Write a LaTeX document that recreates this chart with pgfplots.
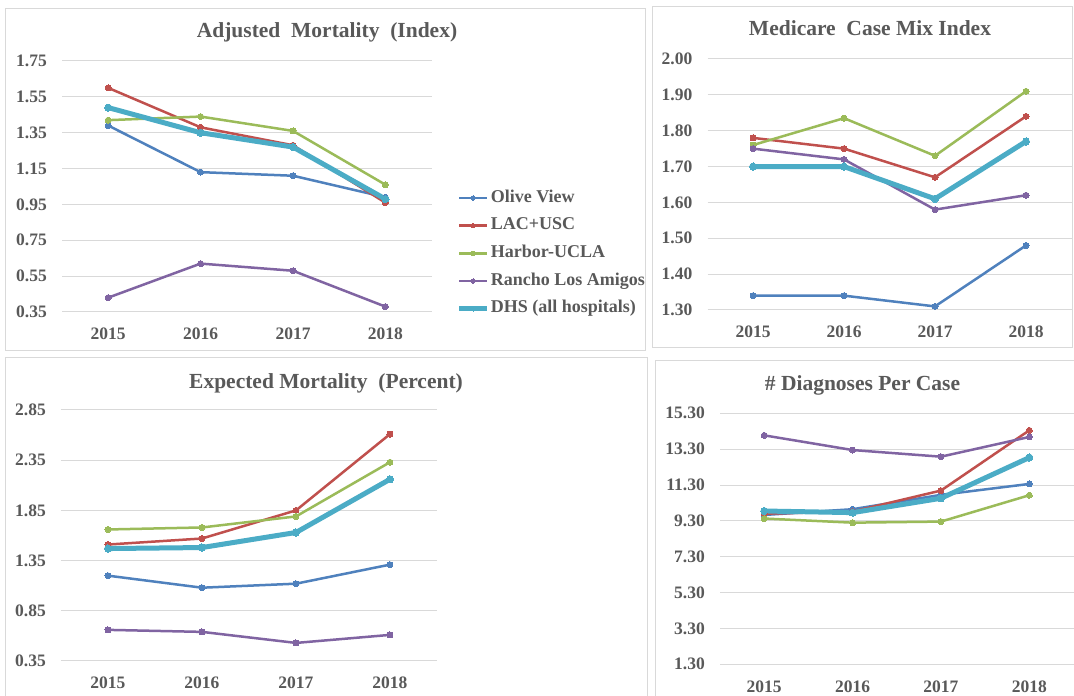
\documentclass[border=0pt]{standalone}
\usepackage{fontspec}
\setmainfont{Liberation Serif}
\usepackage{pgfplots}
\pgfplotsset{compat=1.18}
\definecolor{cOV}{HTML}{4F81BD}
\definecolor{cLA}{HTML}{C0504D}
\definecolor{cHA}{HTML}{9BBB59}
\definecolor{cRA}{HTML}{8064A2}
\definecolor{cDH}{HTML}{4BACC6}
\definecolor{txt}{HTML}{595959}
\definecolor{grd}{HTML}{D9D9D9}
\pgfplotsset{
  panel/.style={
    scale only axis, anchor=south west, clip=false,
    xmin=-0.5, xmax=3.5, xtick={0,1,2,3}, xticklabels={2015,2016,2017,2018},
    axis line style={draw=none}, major tick length=0pt,
    ymajorgrids, major grid style={grd, line width=1pt},
    tick label style={font=\fontsize{17.5}{17.5}\selectfont\bfseries, text=txt},
    yticklabel style={anchor=east, inner sep=0pt, xshift=-15pt,
      /pgf/number format/.cd, fixed, fixed zerofill, precision=2},
    xticklabel style={anchor=north, inner sep=0pt, yshift=-16pt},
    /pgf/number format/assume math mode=true,
  },
  sOV/.style={cOV, line width=2.5pt, mark=*, mark size=3pt, mark options={solid, fill=cOV, draw=cOV, line width=0pt}},
  sLA/.style={cLA, line width=2.5pt, mark=*, mark size=3pt, mark options={solid, fill=cLA, draw=cLA, line width=0pt}},
  sHA/.style={cHA, line width=2.5pt, mark=*, mark size=3pt, mark options={solid, fill=cHA, draw=cHA, line width=0pt}},
  sRA/.style={cRA, line width=2.5pt, mark=*, mark size=3pt, mark options={solid, fill=cRA, draw=cRA, line width=0pt}},
  sDH/.style={cDH, line width=5pt, mark=*, mark size=3.6pt, mark options={solid, fill=cDH, draw=cDH, line width=0pt}},
}
\begin{document}
\begin{tikzpicture}
\path[use as bounding box, fill=white] (0pt,0pt) rectangle (1074pt,696pt);
% panel frames
\draw[grd, line width=1pt] (5.5pt,345.5pt) rectangle (645pt,687.5pt);
\draw[grd, line width=1pt] (652.5pt,348pt) rectangle (1072.5pt,689.5pt);
\draw[grd, line width=1pt] (5.5pt,-5pt) -- (5.5pt,338.3pt) -- (647pt,338.3pt) -- (647pt,-5pt);
\draw[grd, line width=1pt] (655.3pt,-5pt) -- (655.3pt,335.3pt) -- (1080pt,335.3pt);
% titles
\begin{scope}[every node/.style={font=\fontsize{21.5}{21.5}\selectfont\bfseries, text=txt, inner sep=0pt, anchor=base}]
\node at (327pt,658pt) {Adjusted\ \ Mortality\ \ (Index)};
\node at (870pt,660pt) {Medicare\ \ Case Mix Index};
\node at (326pt,307.7pt) {Expected Mortality\ \ (Percent)};
\node at (862.5pt,305pt) {\# Diagnoses Per Case};
\end{scope}

% Panel 1
\begin{axis}[panel, at={(62pt,384pt)}, width=369.6pt, height=251pt,
  ymin=0.35, ymax=1.75, ytick={0.35,0.55,0.75,0.95,1.15,1.35,1.55,1.75},
  legend cell align=left,
  legend style={at={(rel axis cs:1.068,0.49)}, anchor=north west, draw=none, fill=none,
    inner sep=0pt, outer sep=0pt, font=\fontsize{18}{18}\selectfont\bfseries, text=txt,
    row sep=9.7pt, nodes={inner sep=0pt, text height=13pt, text depth=5pt},
    /tikz/every odd column/.style={column sep=1.5pt}},
  legend image code/.code={\draw[mark repeat=2,mark phase=2,#1,mark size=2.2pt] plot coordinates {(0pt,0pt) (13.8pt,0pt) (27.6pt,0pt)};},
]
\addplot[sOV] coordinates {(0,1.39) (1,1.13) (2,1.11) (3,0.99)};
\addplot[sLA] coordinates {(0,1.60) (1,1.38) (2,1.28) (3,0.96)};
\addplot[sHA] coordinates {(0,1.42) (1,1.44) (2,1.36) (3,1.06)};
\addplot[sRA] coordinates {(0,0.43) (1,0.62) (2,0.58) (3,0.38)};
\addplot[sDH] coordinates {(0,1.49) (1,1.35) (2,1.27) (3,0.98)};
\legend{Olive View, LAC+USC, Harbor-UCLA, Rancho Los Amigos, DHS (all hospitals)}
\end{axis}

% Panel 2
\begin{axis}[panel, at={(707.5pt,386pt)}, width=364pt, height=251pt,
  ymin=1.3, ymax=2.0, ytick={1.3,1.4,1.5,1.6,1.7,1.8,1.9,2.0}]
\addplot[sOV] coordinates {(0,1.34) (1,1.34) (2,1.31) (3,1.48)};
\addplot[sLA] coordinates {(0,1.78) (1,1.75) (2,1.67) (3,1.84)};
\addplot[sHA] coordinates {(0,1.76) (1,1.835) (2,1.73) (3,1.91)};
\addplot[sRA] coordinates {(0,1.75) (1,1.72) (2,1.58) (3,1.62)};
\addplot[sDH] coordinates {(0,1.70) (1,1.70) (2,1.61) (3,1.77)};
\end{axis}

% Panel 3
\begin{axis}[panel, at={(61pt,35pt)}, width=376pt, height=251pt,
  ymin=0.35, ymax=2.85, ytick={0.35,0.85,1.35,1.85,2.35,2.85}]
\addplot[sOV] coordinates {(0,1.20) (1,1.08) (2,1.12) (3,1.31)};
\addplot[sLA] coordinates {(0,1.51) (1,1.57) (2,1.85) (3,2.61)};
\addplot[sHA] coordinates {(0,1.66) (1,1.68) (2,1.79) (3,2.33)};
\addplot[sRA] coordinates {(0,0.66) (1,0.64) (2,0.53) (3,0.61)};
\addplot[sDH] coordinates {(0,1.47) (1,1.48) (2,1.63) (3,2.16)};
\end{axis}

% Panel 4
\begin{axis}[panel, at={(720pt,31.7pt)}, width=353.5pt, height=251pt,
  ymin=1.3, ymax=15.3, ytick={1.3,3.3,5.3,7.3,9.3,11.3,13.3,15.3}]
\addplot[sOV] coordinates {(0,9.63) (1,9.95) (2,10.75) (3,11.36)};
\addplot[sLA] coordinates {(0,9.70) (1,9.82) (2,10.99) (3,14.35)};
\addplot[sHA] coordinates {(0,9.43) (1,9.20) (2,9.26) (3,10.73)};
\addplot[sRA] coordinates {(0,14.07) (1,13.25) (2,12.88) (3,13.98)};
\addplot[sDH] coordinates {(0,9.85) (1,9.76) (2,10.56) (3,12.83)};
\end{axis}
\end{tikzpicture}
\end{document}
